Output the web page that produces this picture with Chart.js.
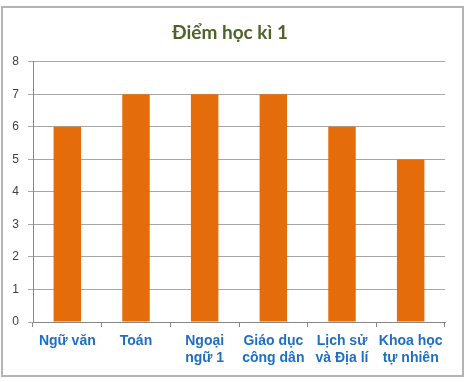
<!DOCTYPE html>
<html><head><meta charset="utf-8">
<script src="https://cdn.jsdelivr.net/npm/chart.js@4/dist/chart.umd.min.js"></script>
<style>
html,body{margin:0;padding:0;background:#fff;}
#wrap{position:relative;width:472px;height:382px;}
#frame{position:absolute;left:1px;top:6px;width:459px;height:367px;border:2px solid #b4b4b4;pointer-events:none;}
canvas{position:absolute;left:0;top:0;}
</style></head>
<body><div id="wrap"><canvas id="c" width="472" height="382"></canvas><div id="frame"></div></div>
<script>
const chartTitle = "Điểm học kì 1";
const categories = [["Ngữ văn"],["Toán"],["Ngoại","ngữ 1"],["Giáo dục","công dân"],["Lịch sử","và Địa lí"],["Khoa học","tự nhiên"]];
const scores = [6, 7, 7, 7, 6, 5];
const yTicks = [0,1,2,3,4,5,6,7,8];

new Chart(document.getElementById('c'), {
  type: 'bar',
  data: {
    labels: categories,
    datasets: [{ data: scores, backgroundColor: '#E46C0A', borderWidth: 0, barPercentage: 0.4, categoryPercentage: 1 }]
  },
  options: {
    responsive: false, animation: false,
    layout: { padding: { left: 0, right: 12, top: 0, bottom: 0 } },
    plugins: {
      legend: { display: false }, tooltip: { enabled: false },
      title: { display: true, text: chartTitle, color: '#4F6228',
        font: { family: 'Lato', size: 19, weight: 'bold' }, padding: { top: 21, bottom: 18 } }
    },
    scales: {
      x: {
        offset: true,
        afterFit: s => { s.height = 60; },
        grid: { display: true, offset: true, drawOnChartArea: false, drawTicks: true, tickLength: 5, color: '#868686' },
        border: { display: true, color: '#868686', width: 1 },
        ticks: { color: '#1F6FBF', font: { family: 'Liberation Sans', size: 14, weight: 'bold' }, padding: 6, maxRotation: 0, autoSkip: false }
      },
      y: {
        min: 0, max: 8,
        afterFit: s => { s.width = 33; },
        afterBuildTicks: s => { s.ticks = yTicks.map(v => ({ value: v })); },
        grid: { color: '#A6A6A6', tickLength: 5, drawTicks: true },
        border: { display: true, color: '#868686', width: 1 },
        ticks: { color: '#404040', font: { family: 'Liberation Sans', size: 12 }, padding: 9 }
      },
      y2: {
        type: 'linear', position: 'right', min: 0, max: 8, display: true,
        afterFit: s => { s.width = 15; },
        grid: { display: false, drawTicks: false },
        border: { display: false },
        ticks: { display: false }
      }
    }
  }
});
</script></body></html>
